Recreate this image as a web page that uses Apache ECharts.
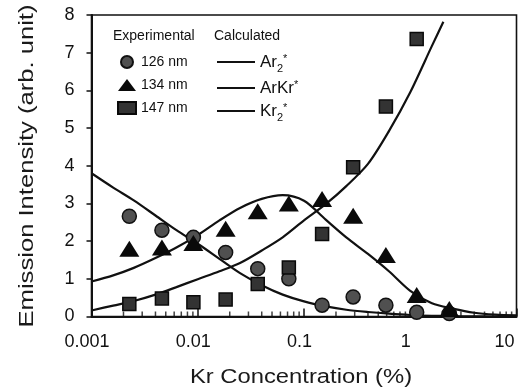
<!DOCTYPE html>
<html>
<head>
<meta charset="utf-8">
<script src="https://cdn.jsdelivr.net/npm/echarts@6/dist/echarts.min.js"></script>
<style>
html,body{margin:0;padding:0;background:#fff;}
#chart{width:529px;height:391px;}
</style>
</head>
<body>
<div id="chart"></div>
<script>
// Experimental data (x = Kr concentration %, shared by all three series)
const expX = [0.00227, 0.0046, 0.0091, 0.0183, 0.0367, 0.072, 0.148, 0.29, 0.59, 1.15, 2.33];
const y126 = [2.66, 2.29, 2.10, 1.70, 1.27, 1.00, 0.30, 0.52, 0.30, 0.11, 0.08];
const y134 = [1.80, 1.83, 1.95, 2.33, 2.79, 3.00, 3.12, 2.67, 1.63, 0.57, 0.20];
const y147 = [0.33, 0.48, 0.38, 0.45, 0.86, 1.30, 2.19, 3.96, 5.57, 7.36];

// Calculated curves (at roughly even log steps)
const curveX = [0.001, 0.0016, 0.0025, 0.004, 0.0063, 0.01, 0.016, 0.025, 0.04, 0.063, 0.1, 0.16, 0.25, 0.4, 0.63, 1, 1.6, 2.5, 4, 6.3, 10];
const ar2Y  = [3.80, 3.42, 3.08, 2.68, 2.29, 1.93, 1.53, 1.15, 0.83, 0.58, 0.40, 0.27, 0.18, 0.12, 0.075, 0.04, 0.02, 0.01, 0.005, 0.0, 0.0];
const arkrY = [0.93, 1.09, 1.29, 1.55, 1.83, 2.16, 2.55, 2.88, 3.12, 3.22, 3.07, 2.57, 2.10, 1.66, 1.20, 0.68, 0.35, 0.21, 0.10, 0.05, 0.03];
const kr2X  = [0.001, 0.0016, 0.0025, 0.004, 0.0063, 0.01, 0.016, 0.025, 0.04, 0.063, 0.1, 0.16, 0.25, 0.4, 0.63, 1, 1.6, 2.05];
const kr2Y  = [0.16, 0.29, 0.41, 0.58, 0.78, 0.99, 1.20, 1.42, 1.75, 2.10, 2.55, 2.98, 3.46, 4.05, 4.92, 5.95, 7.18, 7.82];

// Axis ticks
const yTicks = [0, 1, 2, 3, 4, 5, 6, 7, 8];
const xDecades = [0.001, 0.01, 0.1, 1, 10];
const xMinorTicks = [
  0.002,0.003,0.004,0.005,0.006,0.007,0.008,0.009,
  0.02,0.03,0.04,0.05,0.06,0.07,0.08,0.09,
  0.2,0.3,0.4,0.5,0.6,0.7,0.8,0.9,
  2,3,4,5,6,7,8,9
];

const expNames = ['126 nm', '134 nm', '147 nm'];
const calcNames = ['Ar2*', 'ArKr*', 'Kr2*'];

const zip = (xs, ys) => ys.map((y, i) => [xs[i], y]);
const FONT = 'Liberation Sans, Arial, Helvetica, sans-serif';

const chart = echarts.init(document.getElementById('chart'), null, {renderer: 'canvas'});

const lineStyle = {color: '#111', width: 2.2};
const lineIcon = 'path://M0 0H40V2.2H0Z';

const option = {
  animation: false,
  backgroundColor: '#fff',
  grid: {left: 91.5, right: 12.5, top: 15, bottom: 74.5, show: true, borderColor: '#111', borderWidth: 1.6, backgroundColor: 'transparent'},
  xAxis: {
    type: 'log', logBase: 10, min: xDecades[0], max: xDecades[xDecades.length - 1],
    axisLine: {lineStyle: {color: '#111', width: 2}},
    axisTick: {show: true, inside: true, length: 8, lineStyle: {color: '#111', width: 1.5}},
    axisLabel: {
      fontFamily: FONT, fontSize: 18, color: '#111', margin: 17,
      formatter: v => (v >= 10 ? '{b|' + v + '}' : '{a|' + v + '}'),
      rich: {a: {fontFamily: FONT, fontSize: 18, color: '#111', padding: [0, 9, 0, 0]},
             b: {fontFamily: FONT, fontSize: 18, color: '#111', padding: [0, 24, 0, 0]}}
    },
    splitLine: {show: false}
  },
  yAxis: {
    type: 'value', min: yTicks[0], max: yTicks[yTicks.length - 1], interval: 1,
    axisLine: {show: true, lineStyle: {color: '#111', width: 2}},
    axisTick: {show: true, inside: false, length: 5, lineStyle: {color: '#111', width: 1.5}},
    axisLabel: {fontFamily: FONT, fontSize: 18, color: '#111', margin: 17},
    splitLine: {show: false}
  },
  legend: [
    {
      data: expNames, orient: 'vertical', left: 117, top: 53, padding: 0,
      itemWidth: 18, itemHeight: 12, itemGap: 5,
      textStyle: {fontFamily: FONT, fontSize: 14, color: '#111', lineHeight: 18}
    },
    {
      data: calcNames.map(n => ({name: n, icon: lineIcon})), orient: 'vertical', left: 217, top: 53, padding: 0,
      itemWidth: 38, itemHeight: 12, itemGap: 5,
      formatter: n => {
        if (n === 'Ar2*') return '{m|Ar}{s|2}{p|*}';
        if (n === 'Kr2*') return '{m|Kr}{s|2}{p|*}';
        return '{m|ArKr}{p|*}';
      },
      textStyle: {
        fontFamily: FONT, fontSize: 17, color: '#111', lineHeight: 18,
        rich: {
          m: {fontFamily: FONT, fontSize: 17, color: '#111', lineHeight: 18},
          s: {fontFamily: FONT, fontSize: 11, color: '#111', lineHeight: 11, verticalAlign: 'bottom', padding: [0, 0, -3, 0]},
          p: {fontFamily: FONT, fontSize: 11, color: '#111', lineHeight: 11, verticalAlign: 'top'}
        }
      }
    }
  ],
  graphic: [
    {type: 'text', left: 113, top: 29, style: {text: 'Experimental', font: '14px ' + FONT, fill: '#111'}},
    {type: 'text', left: 214, top: 29, style: {text: 'Calculated', font: '14px ' + FONT, fill: '#111'}},
    {type: 'text', x: 301, y: 377, scaleX: 1.19,
     style: {text: 'Kr Concentration (%)', font: '20px ' + FONT, fill: '#1a1a1a', align: 'center', verticalAlign: 'middle'}},
    {type: 'text', x: 27, y: 166, rotation: Math.PI / 2, scaleX: 1.28,
     style: {text: 'Emission Intensity (arb. unit)', font: '20px ' + FONT, fill: '#1a1a1a', align: 'center', verticalAlign: 'middle'}}
  ],
  series: [
    {name: 'Ar2*', type: 'line', data: zip(curveX, ar2Y), smooth: 0.3, symbol: 'none', showSymbol: false, lineStyle, itemStyle: {color: '#111'}, z: 2},
    {name: 'ArKr*', type: 'line', data: zip(curveX, arkrY), smooth: 0.3, symbol: 'none', showSymbol: false, lineStyle, itemStyle: {color: '#111'}, z: 2},
    {name: 'Kr2*', type: 'line', data: zip(kr2X, kr2Y), smooth: 0.3, symbol: 'none', showSymbol: false, lineStyle, itemStyle: {color: '#111'}, z: 2},
    {name: '126 nm', type: 'scatter', data: zip(expX, y126), symbol: 'circle', symbolSize: 14,
     itemStyle: {color: '#505050', borderColor: '#111', borderWidth: 1.5, opacity: 1}, z: 5},
    {name: '134 nm', type: 'scatter', data: zip(expX, y134), symbol: 'triangle', symbolSize: [20, 16],
     itemStyle: {color: '#0a0a0a', opacity: 1}, z: 6},
    {name: '147 nm', type: 'scatter', data: zip(expX, y147), symbol: 'rect', symbolSize: 13,
     itemStyle: {color: '#333', borderColor: '#0a0a0a', borderWidth: 1.5, opacity: 1}, z: 5},
    {name: 'minorTicks', type: 'scatter', data: xMinorTicks.map(v => [v, 0]), symbol: 'rect',
     symbolSize: [1.5, 5], symbolOffset: [0, -2.5], silent: true, clip: false,
     itemStyle: {color: '#111'}, z: 7}
  ]
};
chart.setOption(option);
</script>
</body>
</html>
